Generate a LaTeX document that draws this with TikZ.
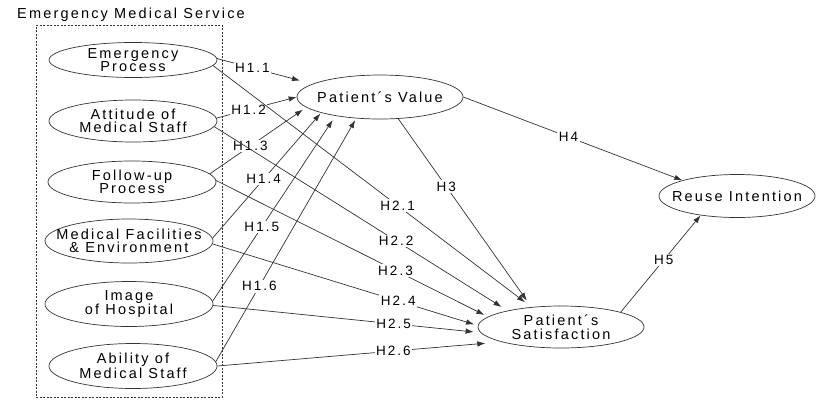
\documentclass[tikz,border=0pt]{standalone}
\usepackage{fontspec}
\setmainfont{Liberation Sans}[LetterSpace=15]
\usetikzlibrary{shapes,arrows.meta,fit}

\begin{document}
\begin{tikzpicture}[x=1pt, y=-1pt, font=\fontsize{14.5}{13.5}\selectfont,
    var/.style={ellipse, draw=black!80, line width=0.7pt, minimum width=168pt,
      minimum height=42pt, inner xsep=-50pt, inner ysep=-2pt, align=center},
    hyp/.style={draw=black!80, line width=0.7pt, -{Latex[length=8pt,width=5.5pt]}},
    hlbl/.style={fill=white, inner sep=1.5pt, font=\fontsize{13.5}{13.5}\selectfont}]
         \useasboundingbox (0, 0) rectangle (822, 400);
         \node (TTL) at (131, 18) [anchor=base] {Emergency Medical Service};
         \node (BOX) [draw=black!80, line width=0.7pt, dash pattern=on 2pt off 1.5pt,
           inner sep=0pt, fit={(36, 25) (222, 397)}] {};
         \node (EP) at (133, 60) [var, minimum height=35pt] {Emergency\\Process};
         \node (AT) at (133, 121) [var] {Attitude of\\Medical Staff};
         \node (FP) at (132, 182) [var] {Follow-up\\Process};
         \node (MF) at (129, 241) [var, minimum height=44pt] {Medical Facilities\\\& Environment};
         \node (IH) at (129, 304) [var, minimum height=45pt] {Image\\of Hospital};
         \node (AB) at (133, 366) [var, minimum height=45pt] {Ability of\\Medical Staff};
         \node (PV) at (380, 97) [var, minimum width=166pt, minimum height=44pt] {Patient´s Value};
         \node (PS) at (561, 327) [var, minimum width=166pt, minimum height=42pt] {Patient´s\\Satisfaction};
         \node (RI) at (737, 196) [var, minimum width=156pt, minimum height=43pt] {Reuse Intention};
         % paths to the patient's value
         \draw [hyp, shorten >=13pt] (EP.1) -- node [hlbl, pos=.37] {H1.1} (PV.169);
         \draw [hyp] (AT.2) -- node [hlbl, pos=.4] {H1.2} (PV.180);
         \draw [hyp, shorten >=4pt] (FP.6) -- node [hlbl, pos=.42] {H1.3} (PV.188);
         \draw [hyp, shorten >=1pt] (MF.2) -- node [hlbl, pos=.47] {H1.4} (PV.195);
         \draw [hyp, shorten >=5pt] (IH.2) -- node [hlbl, pos=.4] {H1.5} (PV.203);
         \draw [hyp, shorten >=2pt] (AB.3) -- node [hlbl, pos=.31] {H1.6} (PV.222);
         % paths to the patient's satisfaction
         \draw [hyp, shorten >=8pt] (EP.-4) -- node [hlbl, pos=.58] {H2.1} (PS.146);
         \draw [hyp, shorten >=7pt] (AT.-4) -- node [hlbl, pos=.62] {H2.2} (PS.163);
         \draw [hyp, shorten >=4pt] (FP.1) -- node [hlbl, pos=.66] {H2.3} (PS.172);
         \draw [hyp, shorten >=4pt] (MF.-2) -- node [hlbl, pos=.7] {H2.4} (PS.179);
         \draw [hyp, shorten >=7pt] (IH.-1) -- node [hlbl, pos=.675] {H2.5} (PS.184);
         \draw [hyp, shorten >=16pt] (AB.0) -- node [hlbl, pos=.62] {H2.6} (PS.194);
         \draw [hyp, shorten >=8pt] (PV.-50) -- node [hlbl, pos=.36] {H3} (PS.146);
         \draw [hyp] (PV.0) -- node [hlbl, pos=.48] {H4} (RI.164);
         \draw [hyp] (PS.14) -- node [hlbl, pos=.54] {H5} (RI.208);
 \end{tikzpicture}
\end{document}
